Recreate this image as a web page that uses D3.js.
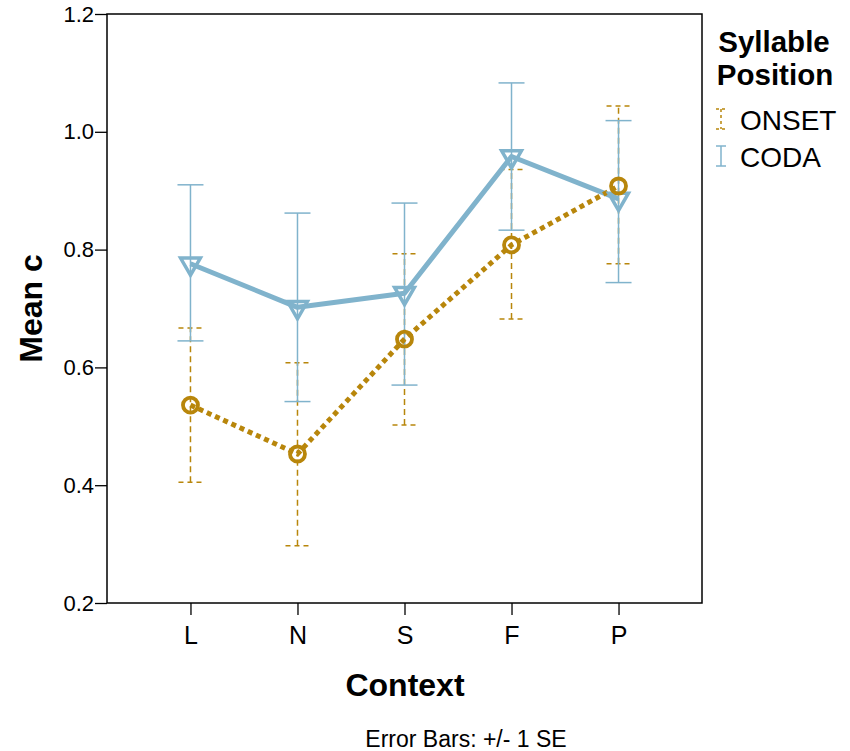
<!DOCTYPE html>
<html>
<head>
<meta charset="utf-8">
<script src="https://cdn.jsdelivr.net/npm/d3@7/dist/d3.min.js"></script>
<style>
body{margin:0;background:#fff;}
text{font-family:"Liberation Sans",Arial,sans-serif;}
</style>
</head>
<body>
<svg id="chart" width="850" height="751"></svg>
<script>
const categories = ["L","N","S","F","P"];
const onsetMean = [0.536, 0.453, 0.648, 0.808, 0.908];
const onsetLow  = [0.405, 0.297, 0.502, 0.682, 0.776];
const onsetHigh = [0.667, 0.608, 0.793, 0.936, 1.044];
const codaMean  = [0.776, 0.702, 0.726, 0.958, 0.886];
const codaLow   = [0.645, 0.542, 0.570, 0.833, 0.744];
const codaHigh  = [0.910, 0.862, 0.879, 1.083, 1.019];
const yTicks = [0.2, 0.4, 0.6, 0.8, 1.0, 1.2];
const seriesNames = ["ONSET","CODA"];

const gold = "#b8860b", blue = "#80b3cc";
const svg = d3.select("#chart");
const L = 107, R = 702, T = 14, B = 603;

const x = d3.scalePoint().domain(categories).range([L, R]).padding(0.78);
const y = d3.scaleLinear().domain([0.2, 1.2]).range([B, T]);

// frame
svg.append("rect").attr("x", L).attr("y", T).attr("width", R - L).attr("height", B - T)
  .attr("fill", "none").attr("stroke", "#000").attr("stroke-width", 1.5);

// y axis
const yAxis = svg.append("g").attr("transform", `translate(${L},0)`)
  .call(d3.axisLeft(y).tickValues(yTicks).tickFormat(d3.format(".1f")).tickSize(12).tickPadding(1));
yAxis.select(".domain").remove();
yAxis.selectAll("line").attr("stroke", "#000").attr("stroke-width", 1.3);
yAxis.selectAll("text").attr("font-size", 22).attr("fill", "#000")
  .attr("font-family", "Liberation Sans, Arial, sans-serif");

// x axis
const xAxis = svg.append("g").attr("transform", `translate(0,${B})`)
  .call(d3.axisBottom(x).tickSize(12).tickPadding(11));
xAxis.select(".domain").remove();
xAxis.selectAll("line").attr("stroke", "#000").attr("stroke-width", 1.3);
xAxis.selectAll("text").attr("font-size", 25).attr("fill", "#000")
  .attr("font-family", "Liberation Sans, Arial, sans-serif");

// titles
svg.append("text").attr("x", 405).attr("y", 696).attr("text-anchor", "middle")
  .attr("font-size", 32).attr("font-weight", "bold").text("Context");
svg.append("text").attr("transform", `translate(42,${(T + B) / 2}) rotate(-90)`)
  .attr("text-anchor", "middle").attr("font-size", 32).attr("font-weight", "bold").text("Mean c");
svg.append("text").attr("x", 466).attr("y", 747).attr("text-anchor", "middle")
  .attr("font-size", 23).text("Error Bars: +/- 1 SE");

const capW = 13;
function errorBars(low, high, color, dash) {
  const g = svg.append("g").attr("stroke", color).attr("stroke-width", 1.5).attr("fill", "none");
  categories.forEach((c, i) => {
    const cx = x(c);
    g.append("line").attr("x1", cx).attr("x2", cx).attr("y1", y(low[i])).attr("y2", y(high[i]))
      .attr("stroke-dasharray", dash);
    [low[i], high[i]].forEach(v => {
      g.append("line").attr("x1", cx - capW).attr("x2", cx + capW).attr("y1", y(v)).attr("y2", y(v))
        .attr("stroke-dasharray", dash ? "5,4" : null)
        .attr("stroke-dashoffset", dash ? -1 : null);
    });
  });
}

errorBars(onsetLow, onsetHigh, gold, "6,4");
errorBars(codaLow, codaHigh, blue, null);

const line = d3.line().x((d, i) => x(categories[i])).y(d => y(d));

// CODA line
svg.append("path").datum(codaMean).attr("d", line).attr("fill", "none")
  .attr("stroke", blue).attr("stroke-width", 5).attr("stroke-linejoin", "round");
// ONSET line
svg.append("path").datum(onsetMean).attr("d", line).attr("fill", "none")
  .attr("stroke", gold).attr("stroke-width", 5).attr("stroke-dasharray", "5,4");

// CODA markers (inverted triangles)
const tri = d3.symbol().type(d3.symbolTriangle).size(170);
svg.append("g").selectAll("path").data(codaMean).join("path")
  .attr("d", tri)
  .attr("transform", (d, i) => `translate(${x(categories[i])},${y(d)}) rotate(180)`)
  .attr("fill", "none").attr("stroke", blue).attr("stroke-width", 3.5);

// ONSET markers (circles)
svg.append("g").selectAll("circle").data(onsetMean).join("circle")
  .attr("cx", (d, i) => x(categories[i])).attr("cy", d => y(d)).attr("r", 7.5)
  .attr("fill", "none").attr("stroke", gold).attr("stroke-width", 3.8);

// legend
svg.append("text").attr("x", 774).attr("y", 52).attr("text-anchor", "middle")
  .attr("font-size", 29.5).attr("font-weight", "bold").text("Syllable");
svg.append("text").attr("x", 775).attr("y", 85).attr("text-anchor", "middle")
  .attr("font-size", 29.5).attr("font-weight", "bold").text("Position");

const legendY = [119, 156];
const legendColors = [gold, blue];
seriesNames.forEach((name, i) => {
  const g = svg.append("g").attr("stroke", legendColors[i]).attr("stroke-width", 1.5).attr("fill", "none");
  const cx = 721, cy = legendY[i];
  const dash = i === 0 ? "3,3" : null;
  g.append("line").attr("x1", cx).attr("x2", cx).attr("y1", cy - 10).attr("y2", cy + 10).attr("stroke-dasharray", dash);
  g.append("line").attr("x1", cx - 5).attr("x2", cx + 5).attr("y1", cy - 10).attr("y2", cy - 10).attr("stroke-dasharray", dash);
  g.append("line").attr("x1", cx - 5).attr("x2", cx + 5).attr("y1", cy + 10).attr("y2", cy + 10).attr("stroke-dasharray", dash);
  svg.append("text").attr("x", 740).attr("y", cy + 11).attr("font-size", 28).attr("fill", "#000").text(name);
});
</script>
</body>
</html>
